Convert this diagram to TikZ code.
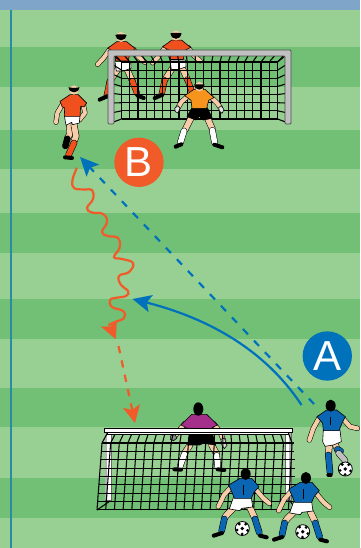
\documentclass[tikz,border=0pt]{standalone}
\usepackage{fontspec}
\setmainfont{Liberation Sans}
\usetikzlibrary{arrows.meta}
\definecolor{lightg}{HTML}{98D094}
\definecolor{darkg}{HTML}{72C075}
\definecolor{topblue}{HTML}{7FA6C8}
\definecolor{lineblue}{HTML}{2A8CA4}
\definecolor{arrowblue}{HTML}{0072BC}
\definecolor{arrowred}{HTML}{F15A29}
\definecolor{skin}{HTML}{F6CDA8}
\definecolor{kit}{HTML}{F0501E}
\definecolor{keeper}{HTML}{F7941D}
\definecolor{purplekit}{HTML}{A5308C}
\definecolor{bluekit}{HTML}{0A66B2}
\definecolor{post}{HTML}{C0C0C0}
\tikzset{
  badge/.style={circle,minimum size=37pt,inner sep=0pt,text=white,font=\fontsize{31.5}{32}\selectfont},
  blueflow/.style={arrowblue,line width=1.65pt,-{Stealth[length=14pt,width=13pt,inset=3pt]}},
  bluedash/.style={blueflow,dash pattern=on 5.5pt off 6.5pt},
  redflow/.style={arrowred,line width=1.65pt},
  redhead/.style={arrowred,line width=.1pt,-{Stealth[length=13pt,width=13pt,inset=3pt]}},
  reddash/.style={redflow,dash pattern=on 5.5pt off 5.5pt,-{Stealth[length=13pt,width=13pt,inset=3pt]}},
  netline/.style={black,line width=.8pt},
  cloth/.style={draw=black,line width=.45pt,line join=round}
}
\newcommand\limb[3]{%
  \draw[black,line width=1.25*#1pt+.8pt,line cap=round,line join=round] #3;
  \draw[#2,line width=1.25*#1pt,line cap=round,line join=round] #3;}
\newcommand\shoe[1]{\draw[black,line width=3pt,line cap=round] #1;}
\newcommand\sball[3]{%
  \fill[white,draw=black,line width=.6pt] (#1,#2) circle (#3);
  \fill[black] (#1,#2) circle (#3*.27);
  \foreach \a in {20,92,164,236,308}{\fill[black] (#1,#2)++(\a:#3*.78) circle (#3*.22);}}
% two outfield players standing behind the top goal
\newcommand\behindplayer[2]{\begin{scope}[shift={(#1,#2)},scale=.3333]
  \limb{2.4}{skin}{(45,72)--(25,100)--(8,118)}
  \limb{2.4}{skin}{(115,72)--(130,95)--(150,112)}
  \limb{3.2}{skin}{(70,130)--(44,170)}
  \limb{3.2}{skin}{(95,130)--(112,168)}
  \limb{3}{kit}{(44,170)--(35,212)}
  \limb{3}{kit}{(112,168)--(126,205)}
  \shoe{(14,224)--(36,214)}
  \shoe{(128,212)--(146,219)}
  \fill[cloth,fill=kit] (38,70)--(65,50)--(95,50)--(122,72)--(105,80)--(100,108)--(62,108)--(58,80)--cycle;
  \fill[cloth,fill=white] (60,110)--(107,110)--(108,130)--(85,138)--(64,138)--cycle;
  \fill[skin] (78,36) circle (15);
  \fill[black] (61,30) arc (180:0:17 and 16) -- (88,28) -- (68,28) -- cycle;
\end{scope}}
% blue player seen from behind (bottom right)
\newcommand\blueback[2]{\begin{scope}[shift={(#1,#2)},scale=.3333]
  \limb{2.5}{skin}{(65,65)--(42,90)--(25,125)}
  \limb{2.5}{skin}{(135,70)--(160,100)--(178,115)}
  \limb{3.4}{skin}{(72,128)--(50,150)--(43,160)}
  \limb{3.4}{skin}{(120,128)--(135,160)}
  \limb{3.3}{bluekit}{(43,162)--(35,198)}
  \limb{3.3}{bluekit}{(135,162)--(148,203)}
  \shoe{(11,212)--(36,204)}
  \shoe{(150,212)--(170,217)}
  \fill[cloth,fill=white] (70,98)--(124,98)--(128,126)--(95,130)--(90,137)--(58,132)--cycle;
  \fill[cloth,fill=bluekit] (56,60)--(90,40)--(125,40)--(147,65)--(132,82)--(124,100)--(73,100)--(66,82)--cycle;
  \draw[black,line width=.3pt] (100,60)--(100,90);
  \fill[black] (107,27) ellipse (15 and 18);
\end{scope}}
\begin{document}
\begin{tikzpicture}[x=.75pt,y=-.75pt]
\useasboundingbox (0,0) rectangle (360,548);
% pitch
\fill[lightg] (0,0) rectangle (360,548);
\foreach \a/\b in {47/87,130/169,213/253,299/339,388/427,478/518}{\fill[darkg] (0,\a) rectangle (360,\b);}
\fill[topblue] (0,0) rectangle (360,10);
\fill[lineblue] (10,10) rectangle (12,548);

% top goal: players behind
\behindplayer{95}{25}
\behindplayer{150}{23.5}
% top goal net
\foreach \i in {0,...,19}{
  \draw[netline] ({121.6+8.2*\i},62)--({121.6+8.2*\i},119);
  \draw[netline] ({121.6+8.2*\i},62)--({116+8.8*\i},56);}
\foreach \k in {0,...,7}{
  \draw[netline] (121.6,{62+8.14*\k})--(277.6,{62+8.14*\k});
  \draw[netline] (114,{56+9.4*\k})--(121.6,{62+8.14*\k});
  \draw[netline] (285,{56+9.4*\k})--(277.6,{62+8.14*\k});}
% top goal frame
\draw[draw=black!70,line width=.6pt,fill=post,rounded corners=.8pt]
  (108,124)--(108,50)--(291,50)--(291,124)--(285,124)--(285,56)--(114,56)--(114,124)--cycle;

% top keeper
\begin{scope}[shift={(170,75)},scale=.3333]
  \limb{2.4}{skin}{(52,65)--(35,80)--(24,98)}
  \limb{2.4}{skin}{(125,68)--(142,85)--(151,98)}
  \fill[cloth,fill=black!10] (14,100)--(24,92)--(30,100)--(24,114)--(16,110)--cycle;
  \fill[cloth,fill=black!10] (146,98)--(154,92)--(162,104)--(156,115)--(148,108)--cycle;
  \limb{3.3}{skin}{(65,125)--(45,165)}
  \limb{3.3}{skin}{(112,128)--(127,162)}
  \limb{3.3}{white}{(42,168)--(31,203)}
  \limb{3.3}{white}{(127,166)--(134,203)}
  \shoe{(17,215)--(34,208)}
  \shoe{(133,209)--(157,217)}
  \fill[cloth,fill=black] (66,98)--(112,98)--(127,130)--(100,135)--(88,124)--(78,135)--(51,125)--cycle;
  \fill[cloth,fill=keeper] (44,62)--(72,43)--(105,43)--(132,68)--(116,76)--(110,100)--(66,100)--(63,76)--cycle;
  \fill[skin] (88,35) circle (14);
  \fill[black] (72,28) arc (180:0:16 and 16) -- cycle;
\end{scope}

% player B
\begin{scope}[shift={(50,78)},scale=.3333]
  \limb{2.4}{skin}{(38,78)--(22,105)--(18,133)}
  \limb{2.4}{skin}{(100,80)--(105,105)--(88,126)}
  \limb{3.2}{skin}{(58,140)--(60,168)--(52,180)}
  \limb{3.4}{skin}{(72,140)--(78,175)--(72,190)}
  \limb{3.2}{black}{(52,182)--(46,204)}
  \limb{3.3}{kit}{(72,195)--(56,230)}
  \shoe{(45,238)--(66,240)}
  \fill[cloth,fill=white] (43,113)--(90,112)--(88,135)--(68,140)--(65,133)--(48,142)--cycle;
  \fill[cloth,fill=kit] (30,70)--(60,50)--(85,50)--(110,75)--(102,87)--(92,85)--(90,115)--(43,115)--(44,90)--(37,87)--cycle;
  \fill[skin] (72,36) circle (14);
  \fill[black] (55,28) arc (180:0:17 and 15) -- (72,30) -- cycle;
\end{scope}

% bottom keeper (behind the goal)
\begin{scope}[shift={(165,400)},scale=.3333]
  \limb{2.4}{skin}{(60,70)--(45,88)--(30,108)}
  \limb{2.4}{skin}{(145,70)--(165,95)--(176,122)}
  \fill[cloth,fill=black!45] (16,108)--(30,104)--(36,114)--(26,122)--(16,118)--cycle;
  \fill[cloth,fill=black!15] (168,118)--(178,114)--(186,136)--(178,146)--(170,134)--cycle;
  \limb{3.3}{skin}{(75,135)--(60,158)}
  \limb{3.3}{skin}{(140,135)--(155,162)}
  \limb{3.2}{white}{(58,162)--(45,200)}
  \limb{3.2}{white}{(155,166)--(158,200)}
  \shoe{(28,208)--(48,209)}
  \shoe{(158,208)--(178,210)}
  \fill[cloth,fill=black] (73,100)--(142,100)--(152,135)--(115,130)--(104,135)--(68,135)--cycle;
  \fill[cloth,fill=purplekit] (48,75)--(80,43)--(125,43)--(158,75)--(142,82)--(137,100)--(73,100)--(68,85)--cycle;
  \fill[black] (100,27) ellipse (15 and 20);
\end{scope}

% bottom goal
\fill[white,draw=black!60,line width=.3pt] (105,432) rectangle (111,500);
\fill[black!30] (105,432) rectangle (107,500);
\fill[white,draw=black!60,line width=.3pt] (285,432) rectangle (291,500);
\fill[black!30] (289,432) rectangle (291,500);
\foreach \i in {0,...,22}{
  \draw[netline] ({108+8.18*\i},432)--({102+8.64*\i},443)--({97+8.7*\i},510);}
\foreach \k in {0,...,8}{
  \draw[netline] ({102-.6*\k},{443+8.37*\k})--({294+.37*\k},{443+8.37*\k});}
\draw[netline] (97,510)--(110,501);
\draw[netline] (297,510)--(290,501);
\fill[white,draw=black,line width=.5pt] (107,432) rectangle (288,434.5);
\fill[white,draw=black,line width=.5pt] (104,428) rectangle (292,432);

% blue kicker
\begin{scope}[shift={(300,395)},scale=.3333]
  \limb{2.5}{skin}{(58,68)--(40,100)--(28,135)}
  \limb{2.5}{skin}{(128,70)--(150,95)--(172,100)}
  \limb{3.4}{skin}{(88,148)--(85,178)}
  \limb{3.3}{bluekit}{(85,180)--(90,232)}
  \shoe{(85,240)--(92,240)}
  \limb{3.2}{skin}{(105,145)--(112,165)}
  \limb{3.2}{bluekit}{(112,163)--(122,168)}
  \limb{3.2}{black!25}{(116,175)--(135,196)}
  \fill[cloth,fill=white] (70,105)--(120,105)--(124,140)--(100,150)--(75,154)--(68,140)--cycle;
  \fill[cloth,fill=bluekit] (51,65)--(80,45)--(110,45)--(136,65)--(127,82)--(117,107)--(70,107)--(68,85)--cycle;
  \draw[black,line width=.3pt] (90,65)--(90,90);
  \fill[black] (92,32) ellipse (15 and 18);
\end{scope}
\sball{345.3}{469}{7}

% blue back players and balls
\blueback{210}{465}
\sball{242.3}{528.5}{7}
\blueback{270.3}{469}
\sball{302.7}{531.7}{7}

% badges
\node[badge,fill=arrowred] (B) at (139,162.3) {B};
\node[badge,fill=arrowblue] (A) at (327.3,356) {A};

% connectors
\coordinate (s1) at (301.5,405);
\coordinate (t1) at (132.5,299);
\draw[blueflow] (s1) .. controls (262,345) and (200,316) .. (t1);
\coordinate (s2) at (314,404);
\coordinate (t2) at (80,157);
\draw[bluedash] (s2) -- (t2);
\draw[redflow,line cap=round] plot[smooth,tension=.75] coordinates {
  (76.7,168.3) (72.5,180) (74,188) (84,189.5) (92,190) (93,199) (87,208) (92,212.5) (103,214) (107,222) (102,232) (108,236) (118,238) (119.5,248) (114,257) (122,259) (133,263) (129,272) (119,276) (121,285) (128,291) (126,296) (115,298) (110,300) (112,307) (123,311) (124,318) (115,322) (109,325)};
\coordinate (h1) at (108,321);
\coordinate (h2) at (115.7,339);
\draw[redhead] (h1) -- (h2);
\coordinate (d1) at (118.5,346);
\coordinate (d2) at (135,423);
\draw[reddash] (d1) -- (d2);
\end{tikzpicture}
\end{document}
